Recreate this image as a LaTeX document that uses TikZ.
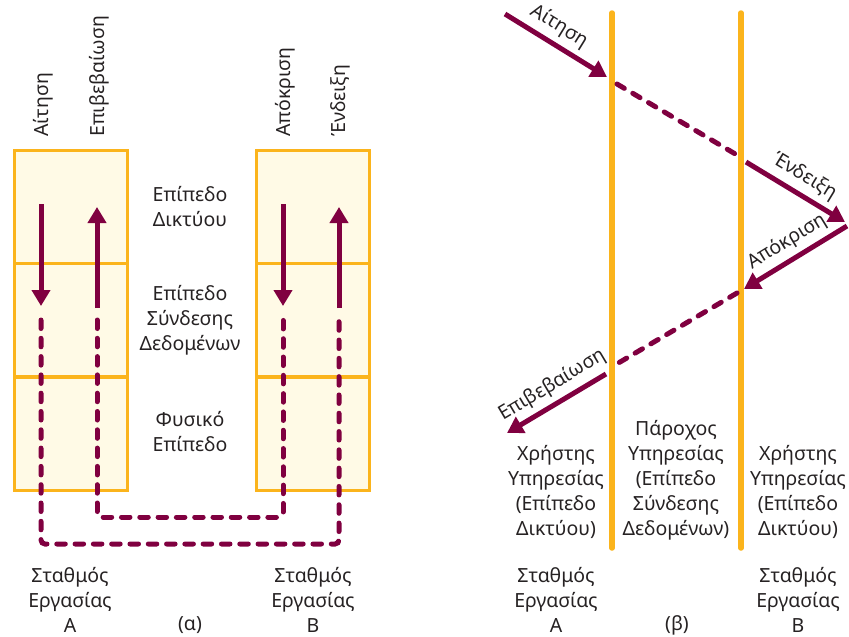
\documentclass[tikz,border=0pt]{standalone}
\usepackage{fontspec}
\setmainfont{Noto Sans}
\usetikzlibrary{arrows.meta}
\definecolor{wine}{RGB}{128,0,64}
\definecolor{amber}{RGB}{251,180,28}
\definecolor{cream}{RGB}{255,250,230}
\definecolor{ink}{RGB}{38,34,35}
\begin{document}
\begin{tikzpicture}[x=1pt,y=-1pt,
  every node/.style={text=ink, font=\fontsize{19.5}{25}\selectfont},
  layerbox/.style={draw=amber, line width=2.7pt, fill=cream, minimum width=113pt,
    minimum height=113pt, inner sep=0pt, anchor=north west},
  msg/.style={draw=wine, line width=5pt, -{Triangle[length=16pt,width=18pt]}},
  msgdash/.style={draw=wine, line width=5pt, dash pattern=on 8.5pt off 9.8pt, line cap=round},
  route/.style={msgdash, rounded corners=4pt},
  tag/.style={rotate=90, anchor=west, inner sep=0pt},
  caption/.style={align=center, inner sep=1pt},
  lane/.style={draw=amber, line width=5.5pt, line cap=round},
  arrowtag/.style={above, sloped, inner sep=5.5pt},
]
\useasboundingbox (0,0) rectangle (849,637);

% ---------------- (a) protocol stacks ----------------
\node[layerbox] (A1) at (13,149) {};
\node[layerbox] (A2) at (13,262) {};
\node[layerbox] (A3) at (13,376) {};
\node[layerbox] (B1) at (255,149) {};
\node[layerbox] (B2) at (255,262) {};
\node[layerbox] (B3) at (255,376) {};

% vertical message labels
\node[tag] (tReqA) at (43,137) {Αίτηση};
\node[tag] (tConA) at (99,137) {Επιβεβαίωση};
\node[tag] (tResB) at (285,137) {Απόκριση};
\node[tag] (tIndB) at (340,137) {Ένδειξη};

% layer names
\node[caption] (Lnet) at (190,207) {Επίπεδο\\Δικτύου};
\node[caption] (Ldl) at (190,320) {Επίπεδο\\Σύνδεσης\\Δεδομένων};
\node[caption] (Lphy) at (190,432) {Φυσικό\\Επίπεδο};

% solid primitives inside the stacks
\coordinate (a1) at (41,204);  \coordinate (a2) at (41,306);
\coordinate (c1) at (97,308);  \coordinate (c2) at (97,207);
\coordinate (r1) at (283,204); \coordinate (r2) at (283,306);
\coordinate (i1) at (339,308); \coordinate (i2) at (339,207);
\draw[msg] (a1) -- (a2);
\draw[msg] (c1) -- (c2);
\draw[msg] (r1) -- (r2);
\draw[msg] (i1) -- (i2);

% dashed paths through the lower layers
\coordinate (oA) at (41,320);  \coordinate (oAb) at (41,544);
\coordinate (oBb) at (339,544); \coordinate (oB) at (339,320);
\coordinate (iA) at (97,320);  \coordinate (iAb) at (97,517);
\coordinate (iBb) at (283,517); \coordinate (iB) at (283,320);
\draw[route] (oA) -- (oAb) -- (oBb) -- (oB);
\draw[route] (iA) -- (iAb) -- (iBb) -- (iB);

% station captions
\node[caption] (stA) at (70,600) {Σταθμός\\Εργασίας\\Α};
\node[caption] (stB) at (313,600) {Σταθμός\\Εργασίας\\Β};
\node (capa) at (190,625) {(α)};

% ---------------- (b) time sequence ----------------
\coordinate (L1t) at (612,13); \coordinate (L1b) at (612,548);
\coordinate (L2t) at (741,13); \coordinate (L2b) at (741,548);
\draw[lane] (L1t) -- (L1b);
\draw[lane] (L2t) -- (L2b);

\coordinate (p0) at (505,14);  \coordinate (p1) at (607,77);
\coordinate (d0) at (617,84);  \coordinate (d1) at (737,155);
\coordinate (p2) at (746,162); \coordinate (p3) at (845,222);
\coordinate (p4) at (847,226); \coordinate (p5) at (744,289);
\coordinate (d2) at (737,293); \coordinate (d3) at (615,365);
\coordinate (p6) at (606,374); \coordinate (p7) at (507,433);

\draw[msg] (p0) -- node[arrowtag, pos=0.44] (lReq) {Αίτηση} (p1);
\draw[msgdash] (d0) -- (d1);
\draw[msg] (p2) -- node[arrowtag, pos=0.5] (lInd) {Ένδειξη} (p3);
\draw[msg] (p4) -- node[arrowtag, pos=0.49] (lRes) {Απόκριση} (p5);
\draw[msgdash] (d2) -- (d3);
\draw[msg] (p6) -- node[arrowtag, pos=0.45] (lCon) {Επιβεβαίωση} (p7);

\node[caption] (uA) at (556,492) {Χρήστης\\Υπηρεσίας\\(Επίπεδο\\Δικτύου)};
\node[caption] (prov) at (676,480) {Πάροχος\\Υπηρεσίας\\(Επίπεδο\\Σύνδεσης\\Δεδομένων)};
\node[caption] (uB) at (798,492) {Χρήστης\\Υπηρεσίας\\(Επίπεδο\\Δικτύου)};

\node[caption] (stA2) at (556,600) {Σταθμός\\Εργασίας\\Α};
\node[caption] (stB2) at (798,600) {Σταθμός\\Εργασίας\\Β};
\node (capb) at (677,625) {(β)};
\end{tikzpicture}
\end{document}
